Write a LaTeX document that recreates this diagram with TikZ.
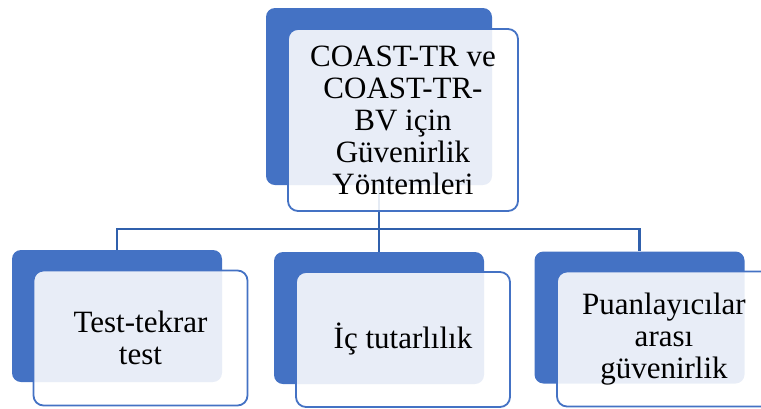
\documentclass[tikz,border=0pt]{standalone}
\usepackage{fontspec}
\setmainfont{Liberation Serif}
\usepackage{tikz}
\usetikzlibrary{positioning,calc}
\usepackage{xcolor}
\definecolor{boxblue}{HTML}{4472C4}
\definecolor{linkblue}{HTML}{3060AC}

\begin{document}
\begin{tikzpicture}[x=1pt,y=-1pt,
  back/.style={rectangle,rounded corners=9pt,fill=boxblue,draw=none,
    minimum width=210pt,minimum height=132pt,inner sep=0pt},
  front/.style={rectangle,rounded corners=10pt,draw=boxblue,line width=1.8pt,
    fill=white,fill opacity=0.88,text opacity=1,
    minimum width=214pt,minimum height=135pt,align=center,inner sep=0pt,
    font=\fontsize{31}{32}\selectfont},
  link/.style={draw=linkblue,line width=2.2pt}]
  \useasboundingbox (0,0) rectangle (761,408);
  % blue boxes behind
  \node[back,minimum width=226pt,minimum height=177pt] (rootb) at (379,96.5) {};
  \node[back] (testb) at (117,316) {};
  \node[back] (icb) at (379,318) {};
  \node[back] (puanb) at (639.5,317.5) {};
  % connectors
  \draw[link] (rootb.south) -- ++(0,43.5) coordinate (bus) -| (testb.north);
  \draw[link] (bus) -| (puanb.north);
  \draw[link] (bus) -- (icb.north);
  % front boxes with labels
  \node[front,minimum width=230pt,minimum height=182pt] (root) at (403,120)
    {COAST-TR ve\\COAST-TR-\\BV için\\Güvenirlik\\Yöntemleri};
  \node[front] (test) at (140.5,338) {Test-tekrar\\test};
  \node[front] (ic) at (403,339.5) {İç tutarlılık};
  \node[front] (puan) at (664,339) {Puanlayıcılar\\arası\\güvenirlik};
\end{tikzpicture}
\end{document}
